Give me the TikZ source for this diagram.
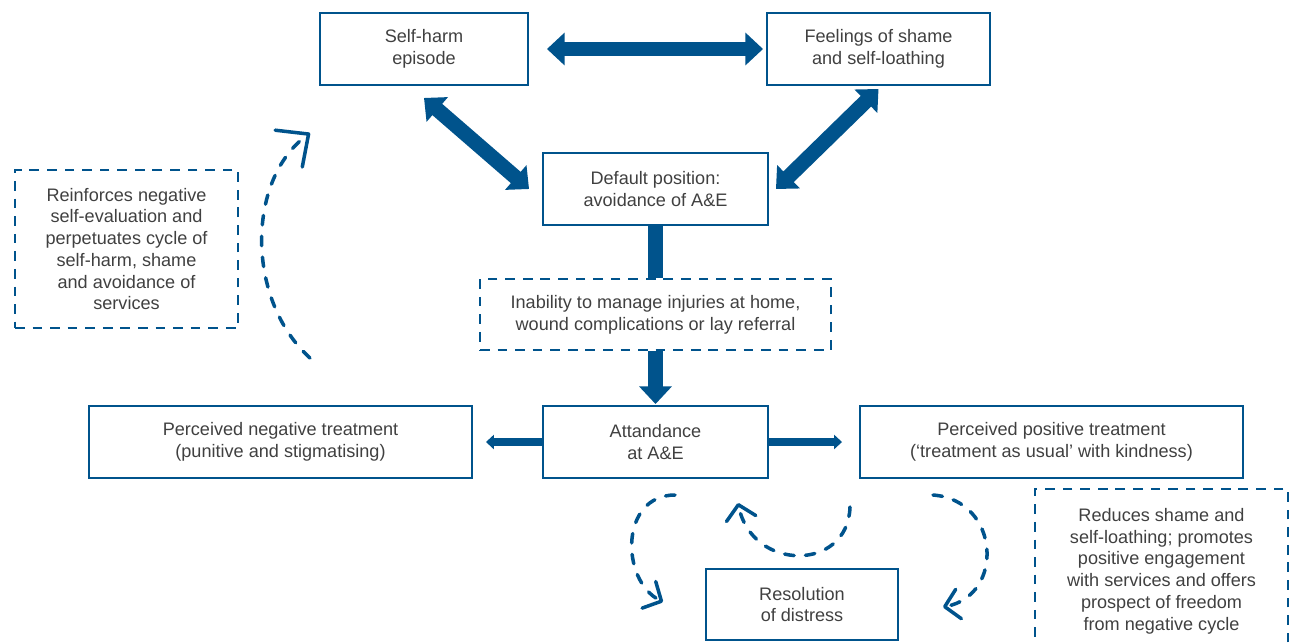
\documentclass[tikz,border=0pt]{standalone}
\usepackage{fontspec}
\setmainfont{Liberation Sans}
\usepackage{xcolor}
\usepackage{tikz}
\usetikzlibrary{arrows.meta,positioning,calc}

\definecolor{aeblue}{RGB}{0,83,140}
\definecolor{aetext}{RGB}{64,64,64}

\tikzset{
  box/.style={draw=aeblue, line width=1.1pt, align=center, text=aetext,
    font=\fontsize{10.3}{12.4}\selectfont, inner sep=2pt},
  dbox/.style={box, dash pattern=on 5.5pt off 4.5pt},
  bigdouble/.style={draw=aeblue, line width=8.5pt,
    {Triangle[length=10pt,width=18pt]}-{Triangle[length=10pt,width=18pt]}},
  bigarrow/.style={draw=aeblue, line width=8.5pt, -{Triangle[length=10pt,width=18pt]}},
  bigbar/.style={draw=aeblue, line width=8.5pt},
  smallarrow/.style={draw=aeblue, line width=4pt, -{Triangle[length=4.5pt,width=8pt]}},
  loopline/.style={draw=aeblue, line width=2pt, line cap=round,
    dash pattern=on 5.4pt off 6.5pt, -{Straight Barb[length=8pt,width=17pt,round]}}
}

\begin{document}
\begin{tikzpicture}
    \useasboundingbox (0,0) rectangle (25.8,-12.86);
    \clip (0,0) rectangle (25.8,-12.86);

    % Top of the cycle
    \node[box, minimum width=4.16cm, minimum height=1.44cm] (selfharm) at (8.48,-0.98) {Self-harm\\episode};
    \node[box, minimum width=4.46cm, minimum height=1.44cm] (shame) at (17.57,-0.98) {Feelings of shame\\and self-loathing};
    \node[box, minimum width=4.5cm, minimum height=1.44cm] (default) at (13.11,-3.78) {Default position:\\avoidance of A\&E};

    % Way out to A&E
    \node[dbox, minimum width=7.02cm, minimum height=1.42cm] (inability) at (13.11,-6.29) {Inability to manage injuries at home,\\wound complications or lay referral};
    \node[box, minimum width=4.5cm, minimum height=1.44cm] (attend) at (13.11,-8.84) {Attandance\\at A\&E};
    \node[box, minimum width=7.66cm, minimum height=1.44cm] (negative) at (5.61,-8.84) {Perceived negative treatment\\(punitive and stigmatising)};
    \node[box, minimum width=7.66cm, minimum height=1.44cm] (positive) at (21.03,-8.84) {Perceived positive treatment\\(`treatment as usual' with kindness)};
    \node[box, minimum width=3.84cm, minimum height=1.42cm] (resolution) at (16.04,-12.09) {Resolution\\of distress};

    % Side notes
    \node[dbox, minimum width=4.46cm, minimum height=3.16cm] (reinforce) at (2.53,-4.98) {Reinforces negative\\self-evaluation and\\perpetuates cycle of\\self-harm, shame\\and avoidance of\\services};
    \node[dbox, minimum width=5.06cm, minimum height=3.28cm] (reduces) at (23.23,-11.42) {Reduces shame and\\self-loathing; promotes\\positive engagement\\with services and offers\\prospect of freedom\\from negative cycle};

    % Thick arrows
    \draw[bigdouble] ([xshift=0.36cm]selfharm.east) -- ([xshift=-0.06cm]shame.west);
    \draw[bigdouble] ([yshift=-0.24cm]selfharm.south) -- ([xshift=-0.26cm]default.west);
    \draw[bigdouble] ([yshift=-0.06cm]shame.south) -- ([xshift=0.14cm]default.east);
    \draw[bigbar] (default.south) -- (inability.north);
    \draw[bigarrow] (inability.south) -- ([yshift=0.02cm]attend.north);

    % Treatment
    \draw[smallarrow] (attend.west) -- ([xshift=0.26cm]negative.east);
    \draw[smallarrow] (attend.east) -- ([xshift=-0.34cm]positive.west);

    % Dashed loops
    \coordinate (backstart) at (6.2,-7.16);
    \coordinate (backend) at (6.2,-2.66);
    \draw[loopline, -{Straight Barb[length=14pt,width=26pt,round]}] (backstart) .. controls (4.92,-6.0) and (4.92,-3.6) .. (backend);

    \coordinate (negstart) at (13.5,-9.9);
    \coordinate (negend) at (13.26,-12.04);
    \draw[loopline] (negstart) .. controls (12.4,-9.9) and (12.4,-11.6) .. (negend);

    \coordinate (upstart) at (17.0,-10.14);
    \coordinate (upend) at (14.76,-10.06);
    \draw[loopline] (upstart) .. controls (16.96,-11.44) and (15.04,-11.44) .. (upend);

    \coordinate (posstart) at (18.66,-9.9);
    \coordinate (posend) at (18.86,-12.14);
    \draw[loopline] (posstart) .. controls (20.0,-10.0) and (20.1,-11.9) .. (posend);
\end{tikzpicture}
\end{document}
